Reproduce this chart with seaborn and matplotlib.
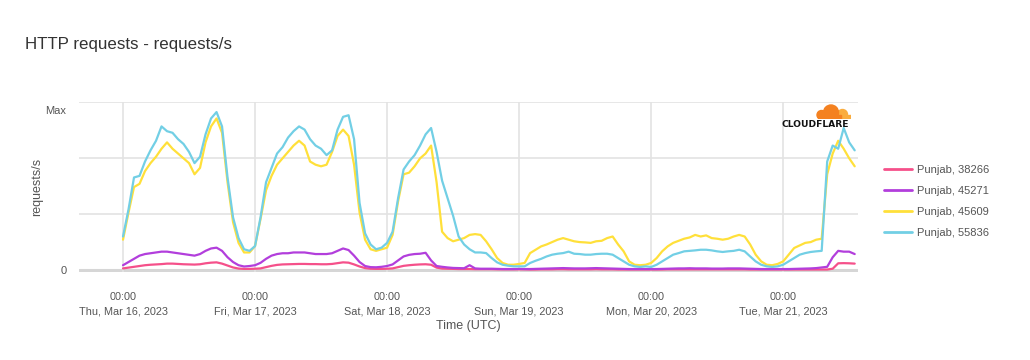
import numpy as np
import pandas as pd
import matplotlib
matplotlib.use("Agg")
import matplotlib.pyplot as plt
import matplotlib.patches as mpatches
import seaborn as sns

# hourly values, Mar 16 00:00 UTC -> Mar 21 13:00 UTC, scaled so that Max = 100
start = "2023-03-16 00:00"

blue_55836 = [
    21, 38, 58, 59, 68, 75, 81, 90, 87, 86, 82, 79, 74, 67, 71, 85, 95, 99, 90, 58, 33, 20, 13, 12,
    15, 33, 55, 64, 73, 77, 83, 87, 90, 88, 82, 78, 76, 72, 75, 88, 96, 97, 82, 42, 23, 16, 13, 14,
    17, 24, 45, 63, 68, 72, 78, 85, 89, 74, 56, 45, 34, 21, 16, 13, 11, 11, 10.6, 7.5, 4.8, 3.3, 2.7, 2.3,
    2.3, 2.3, 4.4, 5.8, 7, 8.5, 9.6, 10.2, 10.6, 11.5, 10.2, 10, 9.6, 9.6, 10, 10.2, 10.2, 9.6, 7.5, 5.4, 3.3, 2.3, 1.9, 2.3,
    1.9, 3.3, 5.4, 7.5, 9.6, 10.6, 11.7, 12, 12.3, 12.7, 12.7, 12.3, 11.7, 11.3, 11.7, 12, 12.7, 11.7, 8.5, 5.4, 3.3, 2.3, 1.9, 2.3,
    3.3, 5.4, 7.5, 9.6, 10.6, 11.3, 11.7, 12, 68, 78, 76, 89, 80, 75,
]
yellow_45609 = [
    19, 36, 52, 54, 62, 67, 71, 76, 80, 76, 73, 70, 67, 60, 64, 80, 90, 95, 86, 55, 30, 17, 11, 11,
    15, 32, 50, 59, 66, 70, 74, 78, 81, 78, 68, 66, 65, 66, 74, 84, 88, 84, 66, 36, 19, 13, 12, 13,
    14, 22, 43, 60, 61, 65, 70, 73, 78, 55, 24, 20, 18, 19, 20, 22, 22.5, 22, 18, 13, 7.5, 4.4, 3.3, 3.3,
    3.8, 4.4, 10.6, 12.7, 14.8, 16, 17.5, 19, 20, 19, 18, 17.5, 17.3, 17, 18, 18.3, 20, 21, 16, 11.7, 5.4, 3.3, 3, 3.3,
    4.4, 7.5, 11.7, 14.8, 17, 18.3, 19.6, 20.4, 22, 21, 21.7, 20, 19.6, 19, 19.6, 21, 22, 21, 16, 9.6, 5.4, 3.3, 3, 3.8,
    5.4, 9.6, 13.8, 15.4, 17, 17.5, 19, 19.6, 60, 73, 81, 76, 70, 65,
]
purple_45271 = [
    3, 5, 7, 9, 10, 10.5, 11, 11.5, 11.5, 11, 10.5, 10, 9.5, 9, 10, 12, 13.5, 14, 12, 8, 5, 3, 2.2, 2.5,
    3, 4.5, 7, 9, 10, 10.5, 10.5, 11, 11, 11, 10.5, 10, 10, 10, 10.5, 12, 13.5, 12.5, 9, 5, 2.5, 1.8, 1.7, 2,
    2.5, 3.5, 6, 8.5, 9.5, 10, 10.2, 10.8, 6, 2.5, 2, 1.6, 1.3, 1.2, 1.1, 3, 1.0, 0.8, 0.8, 0.8, 0.7, 0.6, 0.6, 0.6,
    0.7, 0.6, 0.6, 0.7, 0.8, 0.9, 1.0, 1.1, 1.2, 1.1, 1.0, 1.0, 1.0, 1.1, 1.2, 1.1, 1.0, 0.9, 0.8, 0.7, 0.6, 0.6, 0.6, 0.6,
    0.6, 0.6, 0.7, 0.8, 0.9, 1.0, 1.0, 1.1, 1.0, 1.0, 1.0, 0.9, 0.9, 0.9, 1.0, 1.0, 1.0, 0.9, 0.8, 0.7, 0.6, 0.6, 0.6, 0.6,
    0.6, 0.6, 0.7, 0.8, 0.9, 1.0, 1.2, 1.6, 2.0, 8, 12, 11.5, 11.5, 10,
]
pink_38266 = [
    1, 1.5, 2, 2.5, 3, 3.3, 3.5, 3.7, 4, 4, 3.8, 3.6, 3.5, 3.4, 3.6, 4.2, 4.6, 4.8, 4, 2.8, 1.6, 0.9, 0.7, 0.7,
    0.8, 1.0, 1.8, 2.6, 3.2, 3.5, 3.6, 3.7, 3.8, 3.8, 3.7, 3.7, 3.6, 3.6, 3.8, 4.3, 4.8, 4.6, 3.5, 2.2, 1.2, 0.8, 0.7, 0.7,
    0.8, 1.0, 1.8, 2.6, 3.0, 3.3, 3.5, 3.6, 3.3, 1.5, 0.9, 0.8, 0.7, 0.6, 0.6, 0.6, 0.5, 0.5, 0.5, 0.5, 0.4, 0.4, 0.4, 0.4,
    0.4, 0.4, 0.3, 0.3, 0.4, 0.4, 0.4, 0.5, 0.5, 0.4, 0.4, 0.4, 0.4, 0.4, 0.5, 0.4, 0.4, 0.4, 0.3, 0.3, 0.3, 0.3, 0.3, 0.3,
    0.3, 0.3, 0.3, 0.4, 0.4, 0.4, 0.4, 0.4, 0.4, 0.4, 0.4, 0.4, 0.4, 0.4, 0.4, 0.4, 0.4, 0.4, 0.3, 0.3, 0.3, 0.3, 0.3, 0.3,
    0.3, 0.3, 0.3, 0.3, 0.3, 0.3, 0.3, 0.3, 0.3, 0.8, 4.2, 4.3, 4.2, 4.0,
]

series_names = ["Punjab, 38266", "Punjab, 45271", "Punjab, 45609", "Punjab, 55836"]
colors = ["#f5508a", "#b23edc", "#ffe03a", "#72cfe5"]
tick_days = ["Thu, Mar 16, 2023", "Fri, Mar 17, 2023", "Sat, Mar 18, 2023",
             "Sun, Mar 19, 2023", "Mon, Mar 20, 2023", "Tue, Mar 21, 2023"]

times = pd.date_range(start, periods=len(blue_55836), freq="h")
frames = []
for name, vals in zip(series_names, [pink_38266, purple_45271, yellow_45609, blue_55836]):
    frames.append(pd.DataFrame({"time": times, "value": vals, "series": name}))
df = pd.concat(frames, ignore_index=True)

sns.set_style("white")
plt.rcParams["font.family"] = ["Liberation Sans", "DejaVu Sans"]

fig = plt.figure(figsize=(10.3, 3.6), dpi=100)
ax = fig.add_axes([79 / 1030, (360 - 271.6) / 360, (858 - 79) / 1030, (271.6 - 102) / 360])

sns.lineplot(data=df, x="time", y="value", hue="series", hue_order=series_names,
             palette=colors, linewidth=1.6, ax=ax)

grid_c = "#e3e3e3"
ax.set_ylim(-1, 105.3)
ax.set_xlim(times[0] - pd.Timedelta(hours=8), times[-1] + pd.Timedelta(minutes=36))
for s in ax.spines.values():
    s.set_visible(False)

ax.set_yticks([0, 35, 70, 105], minor=True)
ax.grid(which="minor", axis="y", color=grid_c, linewidth=1.2)
ax.axhline(0, color="#d6d6d6", linewidth=2.2, zorder=0.5)
ax.set_yticks([0, 100], ["0", "Max"])
ax.grid(which="major", axis="y", visible=False)
ax.tick_params(axis="y", which="both", length=0, pad=9, labelsize=8, labelcolor="#555555")

day_ticks = pd.date_range(start, periods=len(tick_days), freq="D")
ax.set_xticks(day_ticks, ["00:00\n" + d for d in tick_days])
ax.grid(which="major", axis="x", color=grid_c, linewidth=1.2)
ax.tick_params(axis="x", length=7, width=1.2, color=grid_c, pad=8,
               labelsize=7.8, labelcolor="#555555")
for lab in ax.get_xticklabels():
    lab.set_linespacing(1.45)

ax.set_xlabel("Time (UTC)", fontsize=9, color="#555555", labelpad=3)
ax.set_ylabel("requests/s", fontsize=9, color="#555555", labelpad=2)

leg = ax.legend(loc="upper left", bbox_to_anchor=(878 / 1030, 1 - 159 / 360),
                bbox_transform=fig.transFigure, frameon=False, fontsize=8,
                handlelength=2.6, handletextpad=0.45, labelspacing=1.0, borderpad=0)
for t in leg.get_texts():
    t.set_color("#555555")
for h in leg.get_lines():
    h.set_linewidth(2)

fig.text(25 / 1030, 1 - 44 / 360, "HTTP requests - requests/s", fontsize=12.2,
         color="#333333", va="center", ha="left")

# cloudflare badge
lax = fig.add_axes([813 / 1030, (360 - 119) / 360, 38 / 1030, 17 / 360])
lax.set_xlim(0, 38)
lax.set_ylim(0, 17)
lax.axis("off")
dark, light = "#f48120", "#faad3f"
lax.add_patch(mpatches.Circle((29.5, 4.5), 5, color=light))
lax.add_patch(mpatches.Rectangle((25, 0), 12.5, 4.5, color=light))
lax.add_patch(mpatches.Circle((18, 6.5), 7.5, color=dark))
lax.add_patch(mpatches.Circle((8.5, 4), 4.5, color=dark))
lax.add_patch(mpatches.Rectangle((6, 0), 22, 4.5, color=dark))
fig.text(815 / 1030, 1 - 124.5 / 360, "CLOUDFLARE", fontsize=6.6, fontweight="bold",
         family="DejaVu Sans", color="#111111", ha="center", va="center")

fig.savefig("out.png", dpi=100, facecolor="white")
